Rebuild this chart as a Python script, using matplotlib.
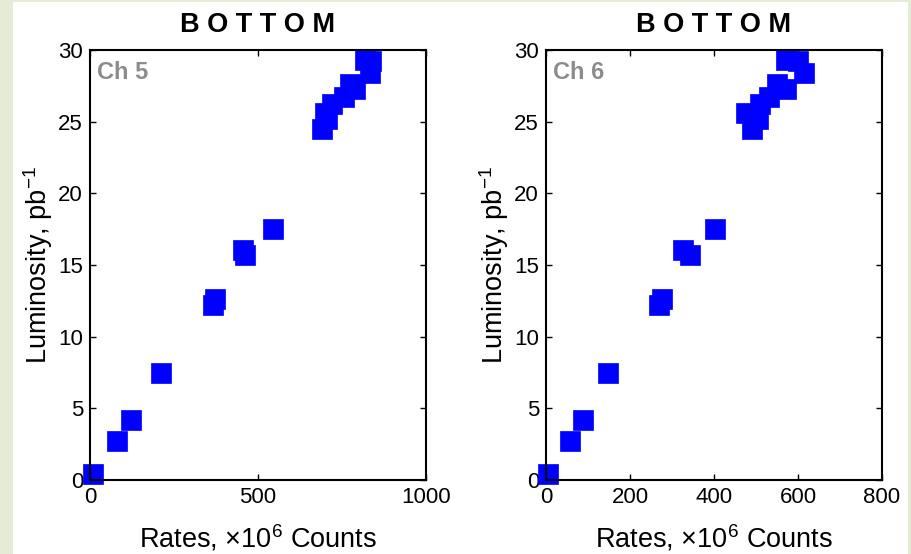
import matplotlib
matplotlib.use("Agg")
import matplotlib.pyplot as plt
from matplotlib.patches import Rectangle

plt.rcParams["font.family"] = ["Liberation Sans", "DejaVu Sans"]
plt.rcParams["mathtext.fontset"] = "custom"
plt.rcParams["mathtext.rm"] = "Liberation Sans"
plt.rcParams["mathtext.it"] = "Liberation Sans:italic"
plt.rcParams["mathtext.bf"] = "Liberation Sans:bold"

# luminosity values (pb^-1), same for both channels
luminosity = [0.4, 2.74, 4.19, 7.49, 12.22, 12.6, 16.03, 15.68, 17.54,
              24.47, 25.2, 25.6, 26.2, 26.7, 27.3, 27.6, 28.4, 29.2, 29.29]

# rates, x10^6 counts
rates_ch5 = [10, 80, 123, 212, 366, 373, 454, 461, 545,
             691, 705, 699, 720, 756, 788, 775, 832, 837, 819]
rates_ch6 = [5, 58, 88, 148, 269, 275, 325, 344, 402,
             491, 505, 476, 509, 531, 571, 550, 615, 599, 571]

panels = [
    ("Ch 5", rates_ch5, [0, 500, 1000], 1000),
    ("Ch 6", rates_ch6, [0, 200, 400, 600, 800], 800),
]
yticks = [0, 5, 10, 15, 20, 25, 30]

W, H = 912, 554
fig = plt.figure(figsize=(W / 100, H / 100), dpi=100)
fig.patch.set_facecolor("#e5ecd5")
fig.patches.append(Rectangle((13 / W, 0), (908 - 13) / W, (H - 2) / H,
                             transform=fig.transFigure, facecolor="white",
                             edgecolor="none", zorder=-1))

lefts = [90, 546]
for left, (chan, rates, xticks, xmax) in zip(lefts, panels):
    ax = fig.add_axes([left / W, (H - 480) / H, 336 / W, 430 / H])
    ax.plot(rates, luminosity, linestyle="none", marker="s", markersize=14,
            color="#0000ff", markeredgecolor="#0000ff", markeredgewidth=0.5,
            clip_on=False)
    ax.set_xlim(0, xmax)
    ax.set_ylim(0, 30)
    ax.set_xticks(xticks)
    ax.set_yticks(yticks)
    ax.tick_params(direction="in", top=True, right=True, length=4, width=1,
                   labelsize=16, pad=5)
    for sp in ax.spines.values():
        sp.set_linewidth(1.5)
    ax.set_title("B O T T O M", fontsize=19.5, fontweight="bold", pad=13)
    ax.text(0.02, 0.975, chan, transform=ax.transAxes, ha="left", va="top",
            fontsize=17, fontweight="bold", color="#8c8c8c")
    ax.set_ylabel("Luminosity, pb$^{-1}$", fontsize=19.5)
    ax.yaxis.set_label_coords(-0.103, 0.5)
    ax.set_xlabel(r"Rates, $\times$10$^6$ Counts", fontsize=19.5)
    ax.xaxis.set_label_coords(0.5, -0.1)

fig.savefig("out.png", dpi=100)
